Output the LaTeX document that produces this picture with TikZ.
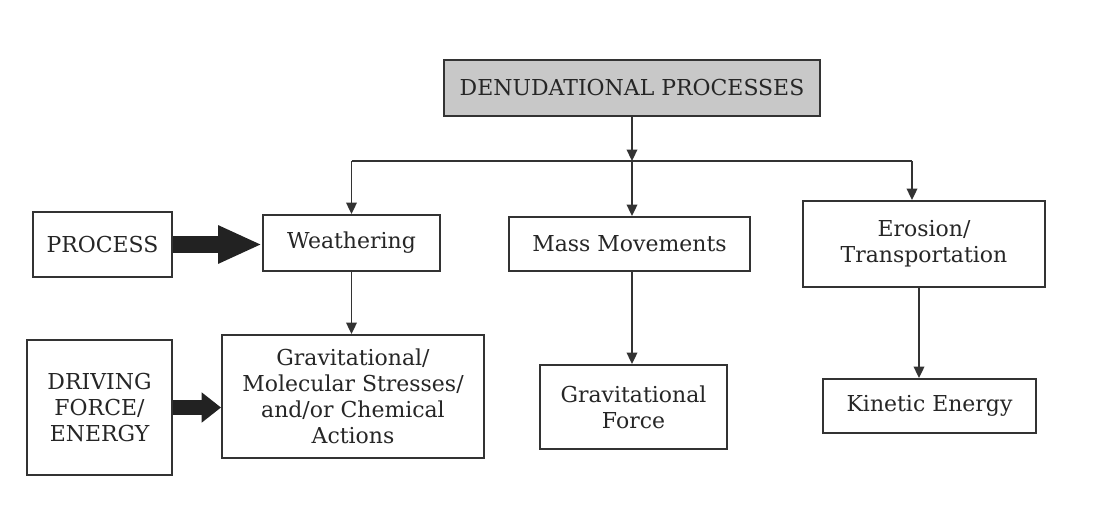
\documentclass[tikz,border=0pt]{standalone}
\usepackage{fontspec}
\setmainfont{DejaVu Serif}
\usepackage{tikz}
\usetikzlibrary{arrows.meta}
\definecolor{DLine}{HTML}{333333}
\definecolor{DText}{HTML}{262626}
\definecolor{DHead}{HTML}{C8C8C8}
\definecolor{DPush}{HTML}{222222}

\begin{document}
\begin{tikzpicture}[
  x=0.02cm, y=-0.02cm,
  every node/.style={font=\fontsize{12.5}{14.7}\selectfont, text=DText},
  box/.style={draw=DLine, line width=1.1pt, align=center, inner sep=0pt, fill=white},
  sz/.style 2 args={minimum width=#1*0.02cm, minimum height=#2*0.02cm},
  arr/.style={-{Triangle[length=6.5pt,width=6pt]}, line width=1pt, color=DLine},
  bar/.style={line width=1pt, color=DLine},
  bigarr/.style={-{Triangle[length=25pt,width=20pt]}, line width=9.5pt, color=DPush},
  smallarr/.style={-{Triangle[length=11pt,width=16.5pt]}, line width=8.5pt, color=DPush}
]
  \useasboundingbox (0,0) rectangle (1112,504);

  % top of the tree
  \node[box, sz={376}{56}, fill=DHead] (denud) at (632,88) {DENUDATIONAL PROCESSES};

  % processes
  \node[box, sz={139}{65}] (process) at (102.5,244.5) {PROCESS};
  \node[box, sz={177}{56}] (weather) at (351.5,243) {Weathering};
  \node[box, sz={241}{54}] (mass) at (629.5,244) {Mass Movements};
  \node[box, sz={242}{86}] (erosion) at (924,244) {Erosion/\\Transportation};

  % driving forces
  \node[box, sz={145}{135}] (driving) at (99.5,407.5) {DRIVING\\FORCE/\\ENERGY};
  \node[box, sz={262}{123}] (gravmol) at (353,396.5) {Gravitational/\\Molecular Stresses/\\and/or Chemical\\Actions};
  \node[box, sz={187}{84}] (gforce) at (633.5,407) {Gravitational\\Force};
  \node[box, sz={213}{54}] (kinetic) at (929.5,406) {Kinetic Energy};

  \coordinate (split) at (632,161);
  \coordinate (wl) at (351.5,161);
  \coordinate (er) at (912,161);

  \draw[arr] (denud) -- (split);
  \draw[bar] (wl) -- (er);
  \draw[arr] (wl) -- (weather);
  \draw[arr] (split) -- (split |- mass.north);
  \draw[arr] (er) -- (er |- erosion.north);

  \draw[arr] (weather) -- (weather |- gravmol.north);
  \draw[arr] (split |- mass.south) -- (split |- gforce.north);
  \draw[arr] ([xshift=-0.1cm]erosion.south) -- ([xshift=-0.1cm]erosion.south |- kinetic.north);

  \draw[bigarr] (process.east) -- (process.east -| weather.west);
  \draw[smallarr] (driving.east) -- (driving.east -| gravmol.west);
\end{tikzpicture}
\end{document}
